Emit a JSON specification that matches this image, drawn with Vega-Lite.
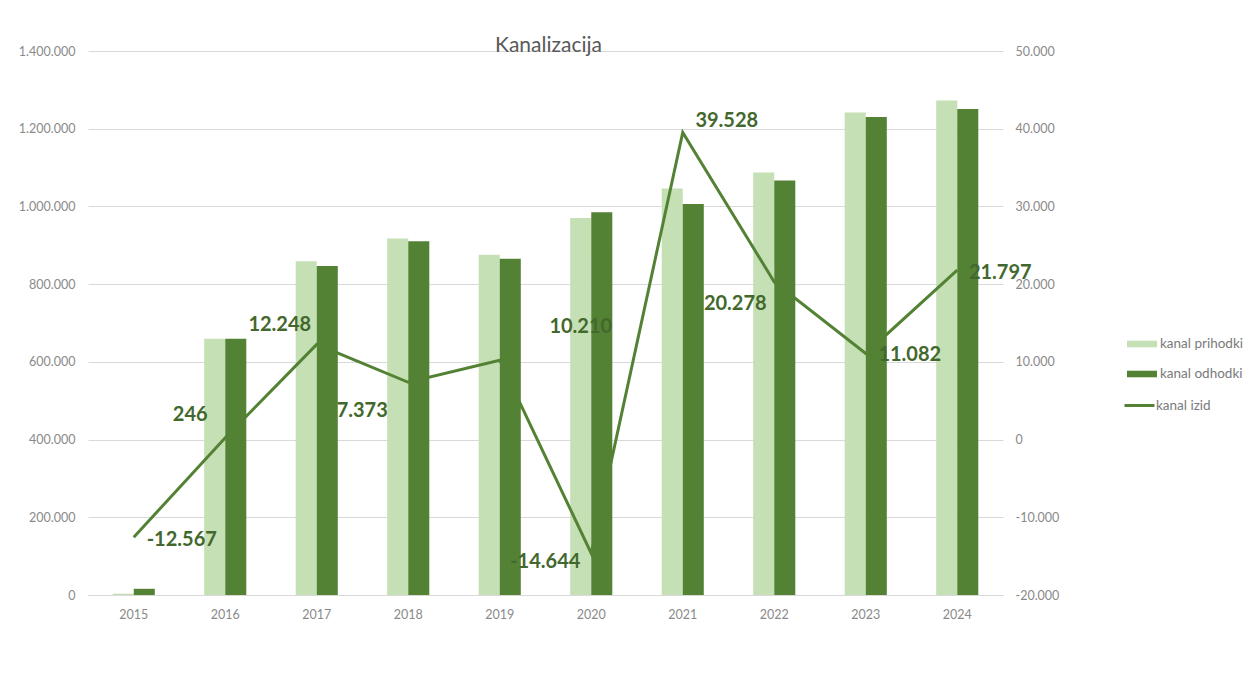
{
  "$schema": "https://vega.github.io/schema/vega-lite/v6.json",
  "autosize": {"type": "none"},
  "width": 915,
  "height": 544,
  "padding": {"left": 88, "top": 51, "right": 247, "bottom": 85},
  "background": "white",
  "title": {"text": "Kanalizacija", "font": "Lato", "fontSize": 21, "fontWeight": "normal", "color": "#595959", "anchor": "middle", "offset": -11, "dx": 3},
  "config": {
    "locale": {"number": {"decimal": ",", "thousands": ".", "grouping": [3], "currency": ["", " €"], "minus": "-"}},
    "view": {"stroke": null},
    "axis": {"labelFont": "Lato", "labelFontSize": 12.5, "labelColor": "#8a8a8a", "ticks": false, "domain": false, "title": null},
    "legend": {"labelFont": "Lato", "labelFontSize": 13.5, "labelColor": "#7a7a7a", "padding": 0, "rowPadding": 8, "title": null}
  },
  "datasets": {
    "stolpci": [
      {"leto": "2015", "serija": "kanal prihodki", "vrednost": 3400},
      {"leto": "2015", "serija": "kanal odhodki", "vrednost": 15967},
      {"leto": "2016", "serija": "kanal prihodki", "vrednost": 659697},
      {"leto": "2016", "serija": "kanal odhodki", "vrednost": 659451},
      {"leto": "2017", "serija": "kanal prihodki", "vrednost": 859200},
      {"leto": "2017", "serija": "kanal odhodki", "vrednost": 846952},
      {"leto": "2018", "serija": "kanal prihodki", "vrednost": 917500},
      {"leto": "2018", "serija": "kanal odhodki", "vrednost": 910127},
      {"leto": "2019", "serija": "kanal prihodki", "vrednost": 875400},
      {"leto": "2019", "serija": "kanal odhodki", "vrednost": 865190},
      {"leto": "2020", "serija": "kanal prihodki", "vrednost": 970500},
      {"leto": "2020", "serija": "kanal odhodki", "vrednost": 985144},
      {"leto": "2021", "serija": "kanal prihodki", "vrednost": 1046000},
      {"leto": "2021", "serija": "kanal odhodki", "vrednost": 1006472},
      {"leto": "2022", "serija": "kanal prihodki", "vrednost": 1087300},
      {"leto": "2022", "serija": "kanal odhodki", "vrednost": 1067022},
      {"leto": "2023", "serija": "kanal prihodki", "vrednost": 1241500},
      {"leto": "2023", "serija": "kanal odhodki", "vrednost": 1230418},
      {"leto": "2024", "serija": "kanal prihodki", "vrednost": 1272500},
      {"leto": "2024", "serija": "kanal odhodki", "vrednost": 1250703}
    ],
    "izid": [
      {"leto": "2015", "serija": "kanal izid", "izid": -12567},
      {"leto": "2016", "serija": "kanal izid", "izid": 246},
      {"leto": "2017", "serija": "kanal izid", "izid": 12248},
      {"leto": "2018", "serija": "kanal izid", "izid": 7373},
      {"leto": "2019", "serija": "kanal izid", "izid": 10210},
      {"leto": "2020", "serija": "kanal izid", "izid": -14644},
      {"leto": "2021", "serija": "kanal izid", "izid": 39528},
      {"leto": "2022", "serija": "kanal izid", "izid": 20278},
      {"leto": "2023", "serija": "kanal izid", "izid": 11082},
      {"leto": "2024", "serija": "kanal izid", "izid": 21797}
    ]
  },
  "layer": [
    {
      "data": {"name": "stolpci"},
      "mark": {"type": "bar"},
      "encoding": {
        "x": {"field": "leto", "type": "nominal", "scale": {"paddingInner": 0.54, "paddingOuter": 0.27},
              "axis": {"labelAngle": 0, "domain": true, "domainColor": "#d9d9d9", "domainWidth": 1, "labelPadding": 13}},
        "xOffset": {"field": "serija", "type": "nominal", "sort": ["kanal prihodki", "kanal odhodki"], "scale": {"paddingInner": 0, "paddingOuter": 0}},
        "y": {"field": "vrednost", "type": "quantitative", "scale": {"domain": [0, 1400000], "nice": false},
              "axis": {"orient": "left", "values": [0, 200000, 400000, 600000, 800000, 1000000, 1200000, 1400000], "format": ",d", "grid": true, "gridColor": "#d9d9d9", "gridWidth": 1, "labelPadding": 13}},
        "color": {"field": "serija", "type": "nominal", "sort": ["kanal prihodki", "kanal odhodki"],
                  "scale": {"domain": ["kanal prihodki", "kanal odhodki"], "range": ["#c5e0b4", "#548235"]},
                  "legend": {"orient": "none", "legendX": 1039, "legendY": 278, "symbolType": "M-1,-0.22H1V0.22H-1Z", "symbolSize": 900, "symbolStrokeWidth": 0, "labelOffset": 3}}
      }
    },
    {
      "data": {"name": "izid"},
      "layer": [
        {
          "mark": {"type": "line", "strokeWidth": 3},
          "encoding": {
            "x": {"field": "leto", "type": "nominal"},
            "y": {"field": "izid", "type": "quantitative", "scale": {"domain": [-20000, 50000], "nice": false},
                  "axis": {"orient": "right", "values": [-20000, -10000, 0, 10000, 20000, 30000, 40000, 50000], "format": ",d", "grid": false, "labelPadding": 12}},
            "stroke": {"field": "serija", "type": "nominal", "scale": {"domain": ["kanal izid"], "range": ["#548235"]},
                       "legend": {"orient": "none", "legendX": 1035, "legendY": 338, "symbolType": "stroke", "symbolSize": 900, "symbolStrokeWidth": 3, "labelOffset": 0}}
          }
        },
        {"transform": [{"filter": "datum.leto == '2015'"}], "mark": {"type": "text", "font": "Lato", "fontSize": 20, "fontWeight": "bold", "color": "#43682d", "dx": 48, "dy": 3},
         "encoding": {"x": {"field": "leto", "type": "nominal"}, "y": {"field": "izid", "type": "quantitative"}, "text": {"field": "izid", "type": "quantitative", "format": ",d"}}},
        {"transform": [{"filter": "datum.leto == '2016'"}], "mark": {"type": "text", "font": "Lato", "fontSize": 20, "fontWeight": "bold", "color": "#43682d", "dx": -35, "dy": -23},
         "encoding": {"x": {"field": "leto", "type": "nominal"}, "y": {"field": "izid", "type": "quantitative"}, "text": {"field": "izid", "type": "quantitative", "format": ",d"}}},
        {"transform": [{"filter": "datum.leto == '2017'"}], "mark": {"type": "text", "font": "Lato", "fontSize": 20, "fontWeight": "bold", "color": "#43682d", "dx": -37, "dy": -19},
         "encoding": {"x": {"field": "leto", "type": "nominal"}, "y": {"field": "izid", "type": "quantitative"}, "text": {"field": "izid", "type": "quantitative", "format": ",d"}}},
        {"transform": [{"filter": "datum.leto == '2018'"}], "mark": {"type": "text", "font": "Lato", "fontSize": 20, "fontWeight": "bold", "color": "#43682d", "dx": -46, "dy": 29},
         "encoding": {"x": {"field": "leto", "type": "nominal"}, "y": {"field": "izid", "type": "quantitative"}, "text": {"field": "izid", "type": "quantitative", "format": ",d"}}},
        {"transform": [{"filter": "datum.leto == '2019'"}], "mark": {"type": "text", "font": "Lato", "fontSize": 20, "fontWeight": "bold", "color": "#43682d", "dx": 81, "dy": -33},
         "encoding": {"x": {"field": "leto", "type": "nominal"}, "y": {"field": "izid", "type": "quantitative"}, "text": {"field": "izid", "type": "quantitative", "format": ",d"}}},
        {"transform": [{"filter": "datum.leto == '2020'"}], "mark": {"type": "text", "font": "Lato", "fontSize": 20, "fontWeight": "bold", "color": "#43682d", "dx": -46, "dy": 9},
         "encoding": {"x": {"field": "leto", "type": "nominal"}, "y": {"field": "izid", "type": "quantitative"}, "text": {"field": "izid", "type": "quantitative", "format": ",d"}}},
        {"transform": [{"filter": "datum.leto == '2021'"}], "mark": {"type": "text", "font": "Lato", "fontSize": 20, "fontWeight": "bold", "color": "#43682d", "dx": 44, "dy": -11},
         "encoding": {"x": {"field": "leto", "type": "nominal"}, "y": {"field": "izid", "type": "quantitative"}, "text": {"field": "izid", "type": "quantitative", "format": ",d"}}},
        {"transform": [{"filter": "datum.leto == '2022'"}], "mark": {"type": "text", "font": "Lato", "fontSize": 20, "fontWeight": "bold", "color": "#43682d", "dx": -39, "dy": 22},
         "encoding": {"x": {"field": "leto", "type": "nominal"}, "y": {"field": "izid", "type": "quantitative"}, "text": {"field": "izid", "type": "quantitative", "format": ",d"}}},
        {"transform": [{"filter": "datum.leto == '2023'"}], "mark": {"type": "text", "font": "Lato", "fontSize": 20, "fontWeight": "bold", "color": "#43682d", "dx": 44, "dy": 2},
         "encoding": {"x": {"field": "leto", "type": "nominal"}, "y": {"field": "izid", "type": "quantitative"}, "text": {"field": "izid", "type": "quantitative", "format": ",d"}}},
        {"transform": [{"filter": "datum.leto == '2024'"}], "mark": {"type": "text", "font": "Lato", "fontSize": 20, "fontWeight": "bold", "color": "#43682d", "dx": 43, "dy": 3},
         "encoding": {"x": {"field": "leto", "type": "nominal"}, "y": {"field": "izid", "type": "quantitative"}, "text": {"field": "izid", "type": "quantitative", "format": ",d"}}}
      ]
    }
  ],
  "resolve": {"scale": {"y": "independent"}}
}
